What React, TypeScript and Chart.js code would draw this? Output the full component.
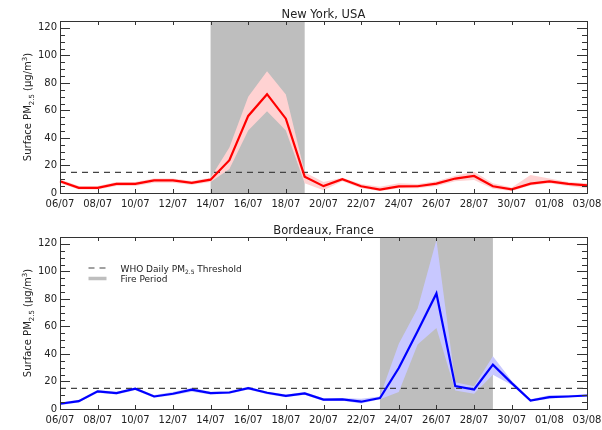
import React, { useEffect, useRef } from "react";
import { Chart, registerables } from "chart.js";

Chart.register(...registerables);

// ---------------- data ----------------
const DATES = [
  "06/07", "07/07", "08/07", "09/07", "10/07", "11/07", "12/07", "13/07", "14/07", "15/07",
  "16/07", "17/07", "18/07", "19/07", "20/07", "21/07", "22/07", "23/07", "24/07", "25/07",
  "26/07", "27/07", "28/07", "29/07", "30/07", "31/07", "01/08", "02/08", "03/08",
];

const NY_MEAN = [8.5, 3.7, 3.7, 6.6, 6.6, 9.2, 9.2, 7.3, 9.7, 23.8, 56, 71.8, 54, 11.9, 5, 10, 4.9, 2.5, 4.8, 4.9, 6.8, 10.5, 12.4, 4.9, 2.7, 6.8, 8.5, 6.6, 5.6];
const NY_UPPER = [10, 5, 5, 8, 8, 10.5, 10.5, 8.8, 11, 33, 70, 88.5, 71.5, 15, 8, 11, 6.5, 4.5, 7, 6.5, 8.5, 12.5, 15.5, 7, 4, 13, 10.5, 8, 7];
const NY_LOWER = [7, 2.5, 2.5, 5, 5, 7.5, 7.5, 6, 8, 17.5, 45.5, 59.5, 45.5, 7, 2, 8.5, 3.5, 1.5, 3.5, 3.5, 5, 8.5, 9.5, 3, 1.5, 5.5, 7, 5, 3.5];

const BDX_MEAN = [3.8, 5.7, 12.8, 11.5, 14.7, 9.1, 11.1, 14, 11.5, 12, 15.2, 11.8, 9.5, 11.3, 6.8, 7, 5.3, 8, 29.8, 56.5, 84, 16.6, 14.2, 32.2, 18.8, 6.2, 8.6, 9.1, 9.8];
const BDX_UPPER = [4.8, 6.7, 13.8, 12.5, 15.7, 10.2, 12.3, 15.5, 12.5, 13, 16.2, 12.8, 10.5, 12.3, 7.8, 8, 7.5, 9, 47.5, 73, 122.8, 19.5, 16.6, 38.3, 20.5, 7, 10, 10, 10.5];
const BDX_LOWER = [2.8, 4.7, 11.8, 10.5, 13.7, 8.1, 10, 12.5, 10.5, 11, 14.2, 10.8, 8.5, 10.3, 5.8, 6, 4, 7, 12.3, 46.8, 58.9, 13.5, 11, 24.9, 17.5, 5.5, 7.5, 8.5, 9];

const NY_FIRE = ["14/07", "19/07"];
const BDX_FIRE = ["23/07", "29/07"];

const WHO_THRESHOLD = 15;
const Y_MIN = 0;
const Y_MAX = 125;
const Y_MAJOR = 20;
const Y_MINOR = 5;

// ---------------- style ----------------
const FONT = "'DejaVu Sans', 'Liberation Sans', sans-serif";
const TEXT = "#222222";
const AXIS = "#333333";
const FIRE_GREY = "#bebebe";

type Part = [string, number, number]; // text, size, dy

function drawRich(ctx: CanvasRenderingContext2D, parts: Part[], x: number, y: number, align: "left" | "center") {
  let total = 0;
  const widths: number[] = [];
  for (const [t, s] of parts) {
    ctx.font = `${s}px ${FONT}`;
    const w = ctx.measureText(t).width;
    widths.push(w);
    total += w;
  }
  let cx = align === "center" ? x - total / 2 : x;
  ctx.textAlign = "left";
  ctx.textBaseline = "alphabetic";
  parts.forEach(([t, s, dy], i) => {
    ctx.font = `${s}px ${FONT}`;
    ctx.fillText(t, cx, y + dy);
    cx += widths[i];
  });
}

interface PanelProps {
  title: string;
  mean: number[];
  upper: number[];
  lower: number[];
  line: string;
  band: string;
  fire: string[];
  legend: boolean;
  height: number;
  xHeight: number;
}

function Panel(p: PanelProps) {
  const ref = useRef<HTMLCanvasElement | null>(null);
  useEffect(() => {
    if (!ref.current) return;
    const decor = {
      id: "decor",
      beforeDatasetsDraw(chart: any) {
        const { ctx, chartArea: a, scales } = chart;
        const x0 = scales.x.getPixelForValue(DATES.indexOf(p.fire[0]));
        const x1 = scales.x.getPixelForValue(DATES.indexOf(p.fire[1]));
        ctx.save();
        ctx.fillStyle = FIRE_GREY;
        ctx.fillRect(x0, a.top, x1 - x0, a.bottom - a.top);
        ctx.restore();
      },
      afterDatasetDraw(chart: any, args: any) {
        if (args.index !== 1) return;
        const { ctx, chartArea: a, scales } = chart;
        const y = scales.y.getPixelForValue(WHO_THRESHOLD);
        ctx.save();
        ctx.strokeStyle = "#444444";
        ctx.lineWidth = 1.2;
        ctx.setLineDash([6, 5]);
        ctx.beginPath();
        ctx.moveTo(a.left, y);
        ctx.lineTo(a.right, y);
        ctx.stroke();
        ctx.restore();
      },
      afterDraw(chart: any) {
        const { ctx, chartArea: a, scales } = chart;
        ctx.save();
        // frame
        ctx.strokeStyle = AXIS;
        ctx.lineWidth = 1;
        ctx.setLineDash([]);
        ctx.strokeRect(Math.round(a.left) + 0.5, Math.round(a.top) + 0.5, Math.round(a.right - a.left), Math.round(a.bottom - a.top));
        // x ticks
        ctx.beginPath();
        for (let i = 0; i < DATES.length; i += 2) {
          const x = Math.round(scales.x.getPixelForValue(i)) + 0.5;
          ctx.moveTo(x, a.bottom);
          ctx.lineTo(x, a.bottom - 4);
          ctx.moveTo(x, a.top);
          ctx.lineTo(x, a.top + 4);
        }
        // y ticks
        for (let v = Y_MIN; v <= Y_MAX; v += Y_MINOR) {
          const y = Math.round(scales.y.getPixelForValue(v)) + 0.5;
          const len = v % Y_MAJOR === 0 ? 10 : 5;
          ctx.moveTo(a.left, y);
          ctx.lineTo(a.left + len, y);
          ctx.moveTo(a.right, y);
          ctx.lineTo(a.right - len, y);
        }
        ctx.stroke();
        // title
        ctx.fillStyle = TEXT;
        drawRich(ctx, [[p.title, 11.5, 0]], (a.left + a.right) / 2, a.top - 3.5, "center");
        // y title
        ctx.save();
        ctx.translate(31, (a.top + a.bottom) / 2);
        ctx.rotate(-Math.PI / 2);
        drawRich(
          ctx,
          [
            ["Surface PM", 10, 0],
            ["2.5", 7, 2.5],
            [" (μg/m", 10, 0],
            ["3", 7, -4],
            [")", 10, 0],
          ],
          0,
          0,
          "center"
        );
        ctx.restore();
        // legend
        if (p.legend) {
          const lx = a.left + 28.5;
          const ly = a.top + 31;
          ctx.strokeStyle = "#444444";
          ctx.lineWidth = 1.2;
          ctx.setLineDash([6, 5]);
          ctx.beginPath();
          ctx.moveTo(lx, ly);
          ctx.lineTo(lx + 18, ly);
          ctx.stroke();
          ctx.setLineDash([]);
          ctx.strokeStyle = FIRE_GREY;
          ctx.lineWidth = 3.5;
          ctx.beginPath();
          ctx.moveTo(lx, ly + 10.5);
          ctx.lineTo(lx + 18, ly + 10.5);
          ctx.stroke();
          ctx.fillStyle = TEXT;
          drawRich(
            ctx,
            [
              ["WHO Daily PM", 9, 0],
              ["2.5", 6, 2],
              [" Threshold", 9, 0],
            ],
            lx + 32,
            ly + 3.5,
            "left"
          );
          drawRich(ctx, [["Fire Period", 9, 0]], lx + 32, ly + 14, "left");
        }
        ctx.restore();
      },
    };

    const chart = new Chart(ref.current, {
      type: "line",
      data: {
        labels: DATES,
        datasets: [
          {
            data: p.mean,
            borderColor: p.line,
            borderWidth: 2.2,
            pointRadius: 0,
            fill: false,
            tension: 0,
          },
          {
            data: p.lower,
            borderWidth: 0,
            borderColor: "rgba(0,0,0,0)",
            pointRadius: 0,
            fill: false,
            tension: 0,
          },
          {
            data: p.upper,
            borderWidth: 0,
            borderColor: "rgba(0,0,0,0)",
            backgroundColor: p.band,
            pointRadius: 0,
            fill: "-1",
            tension: 0,
          },
        ],
      },
      options: {
        animation: false,
        responsive: true,
        maintainAspectRatio: false,
        events: [],
        layout: { padding: { top: 21, right: 15, left: 0, bottom: 0 } },
        plugins: {
          legend: { display: false },
          tooltip: { enabled: false },
          title: { display: false },
        },
        scales: {
          x: {
            type: "category",
            offset: false,
            grid: { display: false, drawTicks: false },
            border: { display: false },
            ticks: {
              autoSkip: false,
              maxRotation: 0,
              minRotation: 0,
              padding: 5,
              color: TEXT,
              font: { family: FONT, size: 10 },
              callback: (_v: any, i: number) => (i % 2 === 0 ? DATES[i] : ""),
            },
            afterFit: (s: any) => {
              s.height = p.xHeight;
              s.paddingLeft = 0;
              s.paddingRight = 0;
            },
          },
          y: {
            min: Y_MIN,
            max: Y_MAX,
            grid: { display: false, drawTicks: false },
            border: { display: false },
            ticks: {
              stepSize: Y_MAJOR,
              includeBounds: false,
              padding: 3,
              color: TEXT,
              font: { family: FONT, size: 10 },
              callback: (v: any) => (Number(v) % Y_MAJOR === 0 ? String(v) : ""),
            },
            afterFit: (s: any) => {
              s.width = 60;
              s.paddingTop = 0;
              s.paddingBottom = 0;
            },
          },
        },
      },
      plugins: [decor],
    } as any);
    return () => chart.destroy();
  }, []);
  return (
    <div style={{ position: "relative", width: 602, height: p.height }}>
      <canvas ref={ref} />
    </div>
  );
}

export default function App() {
  return (
    <div style={{ position: "absolute", left: 0, top: 0, width: 602, height: 430, overflow: "hidden", background: "#fff" }}>
      <Panel title="New York, USA" mean={NY_MEAN} upper={NY_UPPER} lower={NY_LOWER} line="#ff0000" band="#ffd2d2" fire={NY_FIRE} legend={false} height={215} xHeight={22} />
      <div style={{ height: 1 }} />
      <Panel title="Bordeaux, France" mean={BDX_MEAN} upper={BDX_UPPER} lower={BDX_LOWER} line="#0000ff" band="#c8c8ff" fire={BDX_FIRE} legend={true} height={214} xHeight={21} />
    </div>
  );
}
